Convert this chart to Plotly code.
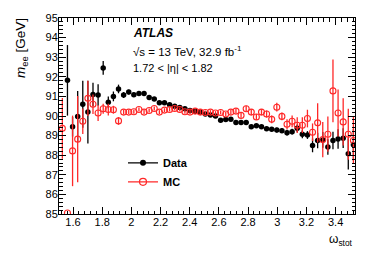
import plotly.graph_objects as go

# bin centres of omega_stot
omega = [1.527, 1.562, 1.597, 1.632, 1.667, 1.702, 1.737, 1.772, 1.807, 1.842,
         1.877, 1.912, 1.947, 1.982, 2.017, 2.052, 2.087, 2.122, 2.157, 2.192,
         2.227, 2.262, 2.297, 2.332, 2.367, 2.402, 2.437, 2.472, 2.507, 2.542,
         2.577, 2.612, 2.647, 2.682, 2.717, 2.752, 2.787, 2.822, 2.857, 2.892,
         2.927, 2.962, 2.997, 3.032, 3.067, 3.102, 3.137, 3.172, 3.207, 3.242,
         3.277, 3.312, 3.347, 3.382, 3.417, 3.452, 3.487, 3.522]

data_mee = [None, 91.82, 89.45, 89.98, 90.60, 90.20, 91.10, 91.07, 92.45, 90.70,
            91.00, 91.38, 91.07, 91.22, 91.08, 91.15, 91.15, 90.95, 90.87, 90.67,
            90.67, 90.57, 90.50, 90.43, 90.37, 90.28, 90.24, 90.20, 90.10, 90.05,
            90.00, 89.78, 89.82, 89.83, 89.67, 89.67, 89.67, 89.45, 89.50, 89.45,
            89.35, 89.32, 89.28, 89.25, 89.15, 89.20, 89.37, 89.07, 89.03, 88.50,
            88.75, 88.78, 88.42, 88.75, 88.83, 88.87, 88.07, 88.53]
data_err = [0.0, 1.8, 0.5, 1.3, 1.2, 1.6, 0.6, 0.55, 0.35, 0.3,
            0.25, 0.22, 0.15, 0.12, 0.1, 0.1, 0.1, 0.1, 0.1, 0.1,
            0.1, 0.1, 0.1, 0.1, 0.1, 0.1, 0.1, 0.1, 0.1, 0.1,
            0.1, 0.1, 0.1, 0.1, 0.1, 0.1, 0.1, 0.1, 0.1, 0.1,
            0.1, 0.1, 0.12, 0.12, 0.15, 0.15, 0.2, 0.2, 0.2, 0.35,
            0.4, 0.4, 0.4, 0.45, 0.5, 0.5, 0.8, 0.8]

mc_mee = [89.37, 85.05, 88.22, 88.82, 89.73, 90.90, 90.60, 90.15, 90.37, 90.33,
          90.32, 89.75, 90.20, 90.20, 90.22, 90.33, 90.20, 90.28, 90.38, 90.20,
          90.30, 90.33, 90.38, 90.33, 90.22, 90.20, 90.25, 90.20, 90.18, 90.20,
          90.15, 90.18, 90.10, 90.20, 90.25, 90.03, 90.37, 90.20, 89.95, 90.20,
          90.10, 89.83, 90.45, 89.98, 89.58, 89.73, 89.53, 89.53, 89.87, 89.17,
          89.65, 88.80, 89.07, 91.28, 90.15, 89.70, 89.07, 88.75]
mc_err = [1.55, 0.0, 1.8, 2.2, 0.65, 0.9, 0.5, 0.4, 0.25, 0.3,
          0.2, 0.2, 0.12, 0.1, 0.1, 0.1, 0.1, 0.1, 0.1, 0.1,
          0.1, 0.1, 0.1, 0.1, 0.1, 0.1, 0.1, 0.1, 0.1, 0.1,
          0.1, 0.1, 0.1, 0.12, 0.12, 0.12, 0.15, 0.15, 0.15, 0.15,
          0.18, 0.2, 0.22, 0.2, 0.25, 0.3, 0.4, 0.4, 0.45, 0.45,
          1.0, 0.9, 0.9, 1.6, 1.2, 1.2, 1.3, 1.2]

x_ticks = [1.6, 1.8, 2.0, 2.2, 2.4, 2.6, 2.8, 3.0, 3.2, 3.4]
x_tick_labels = ["1.6", "1.8", "2", "2.2", "2.4", "2.6", "2.8", "3", "3.2", "3.4"]
y_ticks = [85, 86, 87, 88, 89, 90, 91, 92, 93, 94, 95]

RED = "rgb(255,40,40)"
FONT = "Liberation Sans, Arial, Helvetica, sans-serif"

fig = go.Figure()
fig.add_trace(go.Scatter(
    x=omega, y=data_mee, mode="markers", showlegend=False,
    marker=dict(symbol="circle", size=5.5, color="black"),
    error_y=dict(type="data", array=data_err, width=0, thickness=1.3, color="black"),
))
fig.add_trace(go.Scatter(
    x=omega, y=mc_mee, mode="markers", showlegend=False,
    marker=dict(symbol="circle-open", size=6, color=RED, line=dict(width=1.1, color=RED)),
    error_y=dict(type="data", array=mc_err, width=0, thickness=1.3, color=RED),
))
# legend entries
fig.add_trace(go.Scatter(
    x=[None], y=[None], mode="lines+markers", name="<b>Data</b>",
    marker=dict(symbol="circle", size=6, color="black"), line=dict(color="black", width=1.3),
))
fig.add_trace(go.Scatter(
    x=[None], y=[None], mode="lines+markers", name="<b>MC</b>",
    marker=dict(symbol="circle-open", size=7, color=RED, line=dict(width=1.2, color=RED)),
    line=dict(color=RED, width=1.3),
))

axis_common = dict(
    showline=True, linecolor="black", linewidth=1, mirror="allticks",
    ticks="inside", tickcolor="black", showgrid=False, zeroline=False,
    tickfont=dict(family=FONT, size=11, color="black"),
)
fig.update_xaxes(
    range=[1.504, 3.533], tickvals=x_ticks, ticktext=x_tick_labels, ticklen=7,
    ticklabelstandoff=-2,
    minor=dict(ticks="inside", dtick=0.04, tick0=1.6, ticklen=3.5, tickcolor="black", showgrid=False),
    **axis_common,
)
fig.update_yaxes(
    range=[85, 95], tickvals=y_ticks, ticklen=7, ticklabelstandoff=-2,
    minor=dict(ticks="inside", dtick=0.2, tick0=85, ticklen=3.5, tickcolor="black", showgrid=False),
    **axis_common,
)

ann = []
ann.append(dict(text="<b><i>ATLAS</i></b>", x=131, y=29, font=dict(size=12)))
ann.append(dict(text="√s = 13 TeV, 32.9 fb<sup>-1</sup>", x=131, y=48, font=dict(size=11.5)))
ann.append(dict(text="1.72 < |η| < 1.82", x=131, y=65.5, font=dict(size=11)))

W, H = 374, 255
L, R, T, B = 59, 19, 14, 41
pw, ph = W - L - R, H - T - B
for a in ann:
    fig.add_annotation(
        text=a["text"], xref="paper", yref="paper",
        x=(a["x"] - L) / pw, y=1 - (a["y"] - T) / ph,
        xanchor="left", yanchor="middle", showarrow=False,
        font=dict(family=FONT, color="black", size=a["font"]["size"]),
    )
fig.add_annotation(
    text="<i>m</i><sub>ee</sub> [GeV]", xref="paper", yref="paper",
    x=(21 - L) / pw, y=1.01, xanchor="center", yanchor="top", textangle=-90,
    showarrow=False, font=dict(family=FONT, size=13.5, color="black"),
)
fig.add_annotation(
    text="ω<sub>stot</sub>", xref="paper", yref="paper",
    x=1.0, y=-(241 - T - ph) / ph, xanchor="right", yanchor="middle",
    showarrow=False, font=dict(family=FONT, size=12, color="black"),
)

fig.update_layout(
    width=W, height=H, margin=dict(l=L, r=R, t=T, b=B, pad=0),
    paper_bgcolor="white", plot_bgcolor="white",
    font=dict(family=FONT, color="black"),
    legend=dict(x=(123 - L) / pw, y=1 - (147 - T) / ph, xanchor="left", yanchor="top",
                bgcolor="rgba(0,0,0,0)", font=dict(family=FONT, size=11, color="black"),
                tracegroupgap=0, itemwidth=30),
)

fig.write_html("out.html", config={"displayModeBar": False},
               post_script="document.body.style.margin='0';")
